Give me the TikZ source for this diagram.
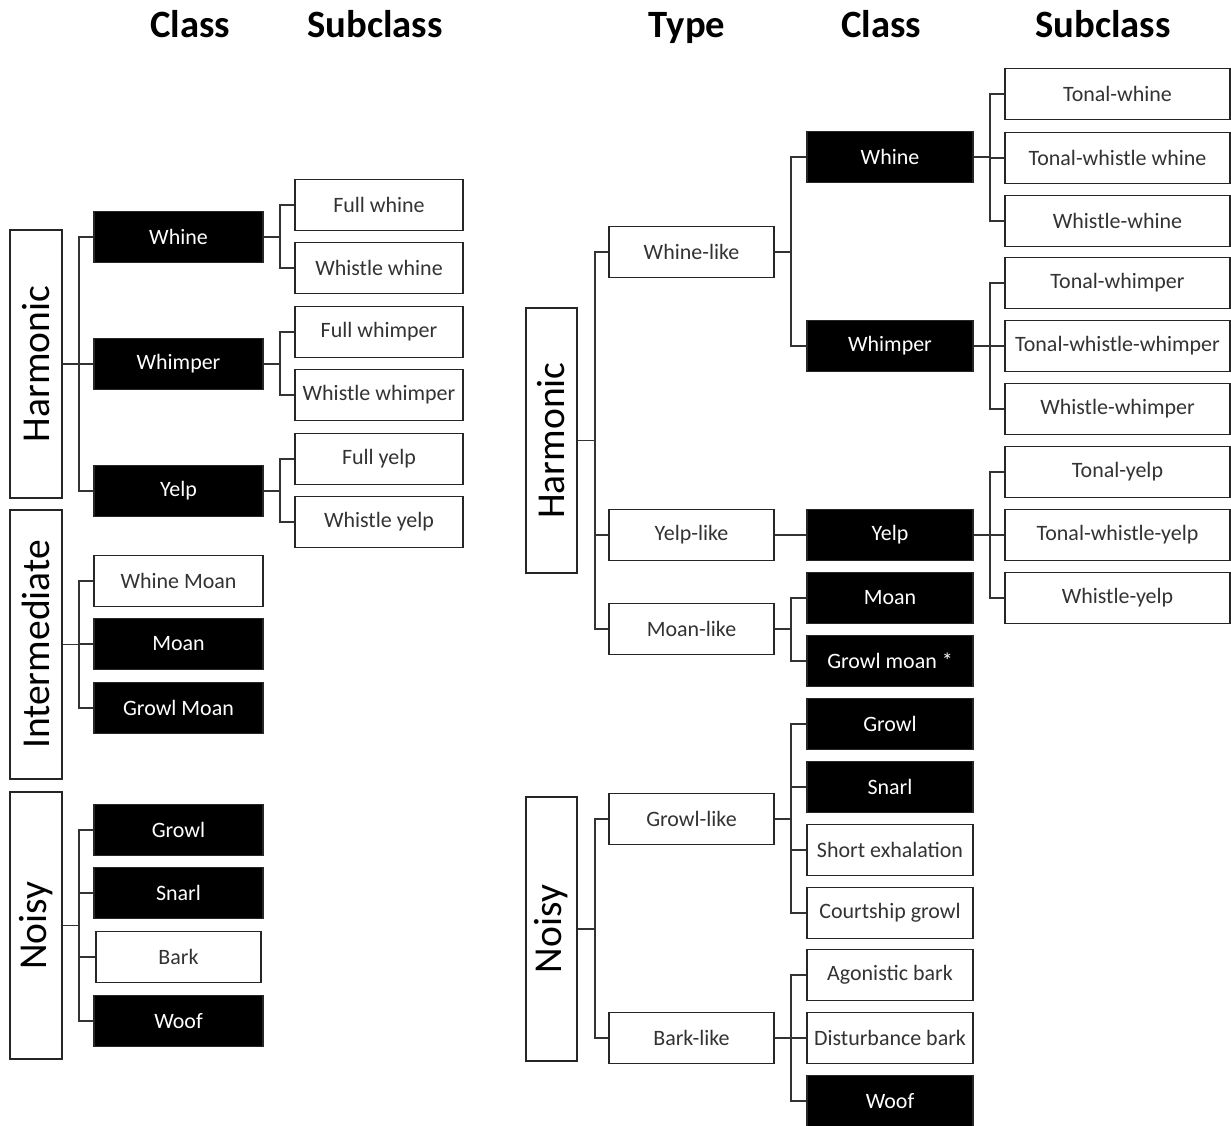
\documentclass[tikz,border=0pt]{standalone}
\usepackage{fontspec}
\setmainfont{Carlito}
\tikzset{
  box/.style={draw=black!85, line width=1pt, minimum height=1.02cm, inner sep=1pt, font=\fontsize{12.5}{14}\selectfont},
  wbox/.style={box, fill=white, text=black!80},
  bbox/.style={box, fill=black, text=white!88},
  rootbox/.style={draw=black!85, line width=1pt, fill=white, rotate=90, minimum height=1.03cm, inner sep=0pt, font=\fontsize{22.5}{24}\selectfont},
  hdr/.style={font=\fontsize{22}{24}\selectfont\bfseries, anchor=base},
  link/.style={draw=black!80, line width=1pt},
}
\begin{document}
\begin{tikzpicture}[x=0.02cm, y=-0.02cm]
  \useasboundingbox (0,0) rectangle (1231,1126);
  % column headers
  \node[hdr] (hlcls) at (190,37) {Class};
  \node[hdr] (hlsub) at (375,37) {Subclass};
  \node[hdr] (hrtype) at (687,37) {Type};
  \node[hdr] (hrcls) at (881,37) {Class};
  \node[hdr] (hrsub) at (1103,37) {Subclass};
  % left tree
  \node[rootbox, minimum width=5.36cm] (lharm) at (36,364) {Harmonic};
  \node[rootbox, minimum width=5.38cm] (linter) at (36,644.5) {Intermediate};
  \node[rootbox, minimum width=5.34cm] (lnoisy) at (36,925.5) {Noisy};
  \foreach \n/\y/\s/\t in {lwhine/237/bbox/Whine, lwhimper/364/bbox/Whimper, lyelp/491/bbox/Yelp,
      lwmoan/581/wbox/Whine Moan, lmoan/644/bbox/Moan, lgmoan/708/bbox/Growl Moan,
      lgrowl/830/bbox/Growl, lsnarl/893/bbox/Snarl, lwoof/1021/bbox/Woof}{
    \node[\s, minimum width=3.38cm] (\n) at (178.5,\y) {\t};
  }
  \node[wbox, minimum width=3.3cm] (lbark) at (178.5,957) {Bark};
  \foreach \n/\y/\t in {lfwhine/205/Full whine, lwwhine/268/Whistle whine, lfwhimper/332/Full whimper,
      lwwhimper/395/Whistle whimper, lfyelp/459/Full yelp, lwyelp/522/Whistle yelp}{
    \node[wbox, minimum width=3.36cm] (\n) at (379,\y) {\t};
  }
  % right tree
  \node[rootbox, minimum width=5.3cm] (rharm) at (551.5,440.5) {Harmonic};
  \node[rootbox, minimum width=5.28cm] (rnoisy) at (551.5,929) {Noisy};
  \foreach \n/\y/\t in {rwlike/252/Whine-like, rylike/535/Yelp-like, rmlike/629/Moan-like,
      rglike/819/Growl-like, rblike/1038/Bark-like}{
    \node[wbox, minimum width=3.3cm] (\n) at (691.5,\y) {\t};
  }
  \foreach \n/\y/\s/\t in {rwhine/157/bbox/Whine, rwhimper/346/bbox/Whimper, ryelp/535/bbox/Yelp,
      rmoan/598/bbox/Moan, rgmoan/661/bbox/Growl moan *, rgrowl/724/bbox/Growl, rsnarl/787/bbox/Snarl,
      rshort/850/wbox/Short exhalation, rcourt/913/wbox/Courtship growl, ragon/975/wbox/Agonistic bark,
      rdist/1038/wbox/Disturbance bark, rwoof/1101/bbox/Woof}{
    \node[\s, minimum width=3.32cm] (\n) at (890,\y) {\t};
  }
  \foreach \n/\y/\t in {rtwhine/94/Tonal-whine, rtwwhine/158/Tonal-whistle whine, rwwhine/221/Whistle-whine,
      rtwhimper/283/Tonal-whimper, rtwwhimper/346/Tonal-whistle-whimper, rwwhimper/409/Whistle-whimper,
      rtyelp/472/Tonal-yelp, rtwyelp/535/Tonal-whistle-yelp, rwyelp/598/Whistle-yelp}{
    \node[wbox, minimum width=4.5cm] (\n) at (1117.5,\y) {\t};
  }
  % connectors
  \foreach \p/\c in {lharm/lwhine, lharm/lwhimper, lharm/lyelp, linter/lwmoan, linter/lmoan, linter/lgmoan,
      lnoisy/lgrowl, lnoisy/lsnarl, lnoisy/lbark, lnoisy/lwoof,
      rharm/rwlike, rharm/rylike, rharm/rmlike, rnoisy/rglike, rnoisy/rblike}{
    \draw[link] (\p.south) -- ++(16.5,0) |- (\c.west);
  }
  \foreach \p/\c in {lwhine/lfwhine, lwhine/lwwhine, lwhimper/lfwhimper, lwhimper/lwwhimper, lyelp/lfyelp, lyelp/lwyelp,
      rwlike/rwhine, rwlike/rwhimper, rylike/ryelp, rmlike/rmoan, rmlike/rgmoan,
      rglike/rgrowl, rglike/rsnarl, rglike/rshort, rglike/rcourt, rblike/ragon, rblike/rdist, rblike/rwoof,
      rwhine/rtwhine, rwhine/rtwwhine, rwhine/rwwhine, rwhimper/rtwhimper, rwhimper/rtwwhimper, rwhimper/rwwhimper,
      ryelp/rtyelp, ryelp/rtwyelp, ryelp/rwyelp}{
    \draw[link] (\p.east) -- ++(16.5,0) |- (\c.west);
  }
\end{tikzpicture}
\end{document}
